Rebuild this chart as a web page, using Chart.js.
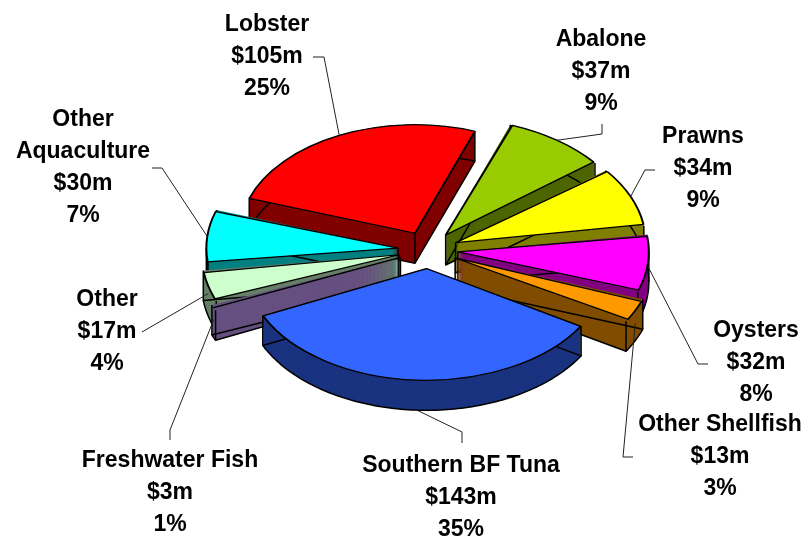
<!DOCTYPE html>
<html lang="en">
<head>
<meta charset="UTF-8" />
<title>Value of production by species</title>
<script src="https://cdn.jsdelivr.net/npm/chart.js"></script>
<style>
  body { margin: 0; background: #fff; }
  .wrap { width: 807px; height: 538px; position: relative; }
</style>
</head>
<body>
<div class="wrap"><canvas id="pie"></canvas></div>
<script>
// data, clockwise from 12 o'clock (chart is rotated a little)
const categories = ['Abalone', 'Prawns', 'Oysters', 'Other Shellfish', 'Southern BF Tuna',
                    'Freshwater Fish', 'Other', 'Other Aquaculture', 'Lobster'];
const valuesM = [37, 34, 32, 13, 143, 3, 17, 30, 105];
const percents = [9, 9, 8, 3, 35, 1, 4, 7, 25];

// styles
const topColors  = ['#99cc00', '#ffff00', '#ff00ff', '#ff9900', '#3366ff', '#cc99ff', '#ccffcc', '#00ffff', '#ff0000'];
const sideColors = ['#4d6600', '#808000', '#800080', '#804d00', '#1a3380', '#665080', '#668066', '#008080', '#800000'];

// where each label sits (centre of first line) and where its leader starts
const labelPos = [
  { x: 601, y: 40,  lead: [[602, 124], [602, 134]] },
  { x: 703, y: 137, lead: [[655, 170], [645, 170]] },
  { x: 756, y: 331, lead: [[708, 364], [698, 364]] },
  { x: 720, y: 425, lead: [[633, 457], [623, 457]] },
  { x: 461, y: 466, lead: [[462, 443], [462, 432]] },
  { x: 170, y: 461, lead: [[170, 440], [170, 430]] },
  { x: 107, y: 300, lead: [[142, 332]] },
  { x: 83,  y: 120, lead: [[152, 168], [162, 168]], wrap: true },
  { x: 267, y: 25,  lead: [[313, 57], [324, 57]] }
];

const SQUASH = 0.62;   // vertical flattening of the pie
const DEPTH = 30;      // thickness of the 3D walls
const LINE = 32;       // label line height

// outline of a slice top as Chart.js draws it, in screen coordinates
function topOutline(arc) {
  const o = (arc.options.offset || 0) / 4;
  const half = (arc.startAngle + arc.endAngle) / 2;
  const circ = arc.endAngle - arc.startAngle;
  const r = arc.outerRadius + o * (1 - Math.sin(Math.min(Math.PI, circ)));
  const x0 = arc.x + Math.cos(half) * o;
  const y0 = arc.y + Math.sin(half) * o;
  const sy = y => arc.y + (y - arc.y) * SQUASH;
  const pts = [[x0, sy(y0)]];
  const n = Math.max(2, Math.ceil(circ / 0.02));
  for (let i = 0; i <= n; i++) {
    const t = arc.startAngle + circ * i / n;
    pts.push([x0 + r * Math.cos(t), sy(y0 + r * Math.sin(t))]);
  }
  return { pts, x0, y0, r, half, sy };
}

function poly(ctx, pts, dy) {
  ctx.beginPath();
  ctx.moveTo(pts[0][0], pts[0][1] + dy);
  for (let i = 1; i < pts.length; i++) ctx.lineTo(pts[i][0], pts[i][1] + dy);
  ctx.closePath();
}

const pie3d = {
  id: 'pie3d',
  beforeDatasetsDraw(chart) {
    const ctx = chart.ctx;
    const arcs = chart.getDatasetMeta(0).data;
    const mid = a => Math.sin((a.startAngle + a.endAngle) / 2);
    const order = arcs.map((a, i) => i).sort((i, j) => mid(arcs[i]) - mid(arcs[j]));

    // walls, back slices first
    order.forEach(i => {
      const arc = arcs[i];
      const g = topOutline(arc);
      ctx.save();
      ctx.fillStyle = sideColors[i];
      for (let d = DEPTH; d >= 0; d -= 1) { poly(ctx, g.pts, d); ctx.fill(); }
      ctx.strokeStyle = '#000';
      ctx.lineWidth = 1.5;
      ctx.lineJoin = 'round';
      poly(ctx, g.pts, DEPTH);
      ctx.stroke();
      const edges = [g.pts[0], g.pts[1], g.pts[g.pts.length - 1]];
      for (let k = -2; k <= 4; k++) {
        const t = k * Math.PI;
        if (t > arc.startAngle && t < arc.endAngle) {
          edges.push([g.x0 + g.r * Math.cos(t), g.sy(g.y0 + g.r * Math.sin(t))]);
        }
      }
      ctx.beginPath();
      edges.forEach(p => { ctx.moveTo(p[0], p[1]); ctx.lineTo(p[0], p[1] + DEPTH); });
      ctx.stroke();
      ctx.restore();
    });

    // flatten the tops that Chart.js is about to draw
    const cx = arcs[0].x, cy = arcs[0].y;
    ctx.save();
    ctx.translate(cx, cy);
    ctx.scale(1, SQUASH);
    ctx.translate(-cx, -cy);
  },
  afterDatasetsDraw(chart) {
    chart.ctx.restore();
  },
  afterDraw(chart) {
    const ctx = chart.ctx;
    const arcs = chart.getDatasetMeta(0).data;
    ctx.save();
    ctx.font = 'bold 23px "Liberation Sans", Arial, sans-serif';
    ctx.textAlign = 'center';
    ctx.textBaseline = 'middle';
    ctx.fillStyle = '#000';
    ctx.strokeStyle = '#222';
    ctx.lineWidth = 1;
    arcs.forEach((arc, i) => {
      const L = labelPos[i];
      const name = L.wrap ? categories[i].split(' ') : [categories[i]];
      const lines = name.concat(['$' + valuesM[i] + 'm', percents[i] + '%']);
      lines.forEach((s, k) => ctx.fillText(s, L.x, L.y + k * LINE));

      // leader line to the middle of the slice rim
      const g = topOutline(arc);
      const px = g.x0 + g.r * Math.cos(g.half);
      const py = g.sy(g.y0 + g.r * Math.sin(g.half)) + DEPTH * Math.max(0, Math.sin(g.half));
      ctx.beginPath();
      ctx.moveTo(L.lead[0][0], L.lead[0][1]);
      for (let k = 1; k < L.lead.length; k++) ctx.lineTo(L.lead[k][0], L.lead[k][1]);
      ctx.lineTo(px, py);
      ctx.stroke();
    });
    ctx.restore();
  }
};

new Chart(document.getElementById('pie'), {
  type: 'pie',
  data: {
    labels: categories,
    datasets: [{
      data: valuesM,
      backgroundColor: topColors,
      borderColor: '#000',
      borderWidth: 2,
      offset: 120,
      clip: false
    }]
  },
  options: {
    responsive: true,
    maintainAspectRatio: false,
    animation: false,
    events: [],
    rotation: 20,
    radius: 175,
    layout: { padding: { left: 49, right: 0, top: 0, bottom: 38 } },
    plugins: {
      legend: { display: false },
      tooltip: { enabled: false }
    }
  },
  plugins: [pie3d]
});
</script>
</body>
</html>
